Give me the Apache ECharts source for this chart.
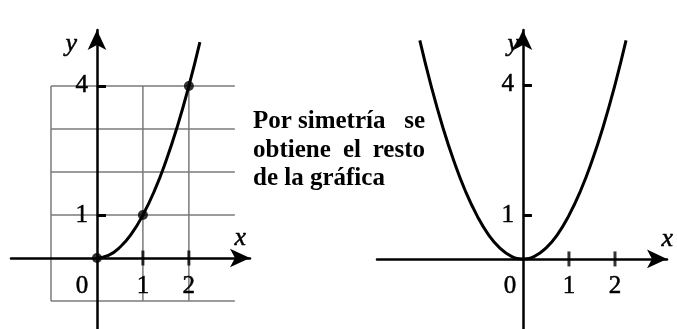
<!DOCTYPE html>
<html>
<head>
<meta charset="utf-8">
<script src="https://cdn.jsdelivr.net/npm/echarts@6/dist/echarts.min.js"></script>
<style>
  html, body { margin: 0; padding: 0; background: #fff; }
  #chart { width: 677px; height: 329px; }
</style>
</head>
<body>
<div id="chart"></div>
<script>
// half parabola y = x^2
const curveX = [0, 0.25, 0.5, 0.75, 1, 1.25, 1.5, 1.75, 2, 2.24];
const curveY = [0, 0.06, 0.25, 0.56, 1, 1.56, 2.25, 3.06, 4, 5.02];
// marked points
const dotX = [0, 1, 2];
const dotY = [0, 1, 4];
// background grid on the left panel
const gridRows = [-1, 1, 2, 3, 4];
const gridCols = [-1, 1, 2];
const gridXSpan = [-1, 3];
const gridYSpan = [-1, 4];
// ticks and labels
const xTicks = [1, 2];
const xLabels = [0, 1, 2];
const yTicks = [1, 4];
const textLines = [
  ['Por', 'simetría', 'se'],
  ['obtiene', 'el', 'resto'],
  ['de la gráfica']
];

const serif = '"Liberation Serif", "DejaVu Serif", serif';

// by symmetry: mirror the half curve for the right panel
const fullCurve = curveX.slice(1).reverse().map((x, i) => [-x, curveY[curveY.length - 1 - i]])
  .concat(curveX.map((x, i) => [x, curveY[i]]));

const chartDom = document.getElementById('chart');
const myChart = echarts.init(chartDom);

function makeX(gridIndex, min, max, nameGap) {
  return {
    gridIndex: gridIndex, type: 'value', min: min, max: max, z: 3,
    splitLine: { show: false },
    axisTick: { show: false },
    axisLabel: { show: false },
    axisLine: {
      onZero: true, symbol: ['none', 'arrow'], symbolSize: [14, 20],
      lineStyle: { color: '#000', width: 2.5 }
    },
    name: 'x', nameLocation: 'end', nameGap: nameGap,
    nameTextStyle: {
      fontFamily: serif, fontStyle: 'italic', fontSize: 26, color: '#000',
      textBorderColor: '#000', textBorderWidth: 0.5,
      align: 'right', verticalAlign: 'bottom', padding: [0, 0, 7, 0]
    }
  };
}

function makeY(gridIndex, min, max, namePad) {
  return {
    gridIndex: gridIndex, type: 'value', min: min, max: max, z: 3,
    splitLine: { show: false },
    axisLabel: { show: false },
    axisLine: {
      onZero: true, symbol: ['none', 'arrow'], symbolSize: [14, 20],
      lineStyle: { color: '#000', width: 2.5 }
    },
    axisTick: {
      show: true, customValues: yTicks, inside: true, length: 9,
      lineStyle: { color: '#000', width: 3 }
    },
    name: 'y', nameLocation: 'end', nameGap: -14,
    nameTextStyle: {
      fontFamily: serif, fontStyle: 'italic', fontSize: 26, color: '#000',
      textBorderColor: '#000', textBorderWidth: 0.5,
      align: 'right', verticalAlign: 'middle', padding: [0, namePad, 0, 0]
    }
  };
}

// number labels sitting on the axes, placed through the data coordinates
function labelSeries(idx, zeroShift) {
  const items = xLabels.map(v => [v, 0, 'x']).concat(yTicks.map(v => [0, v, 'y']));
  return {
    type: 'custom', xAxisIndex: idx, yAxisIndex: idx, z: 6, silent: true,
    data: items,
    renderItem: (params, api) => {
      const kind = items[params.dataIndex][2];
      const p = api.coord([api.value(0), api.value(1)]);
      const isX = kind === 'x';
      const val = isX ? api.value(0) : api.value(1);
      return {
        type: 'text',
        x: isX ? p[0] + (val === 0 ? zeroShift : 0) : p[0] - 9,
        y: isX ? p[1] + 28 : p[1],
        style: {
          text: String(val), fill: '#000', font: '25px ' + serif,
          stroke: '#000', lineWidth: 0.5,
          textAlign: isX ? 'center' : 'right', textVerticalAlign: 'middle'
        }
      };
    }
  };
}

const gridSeries = [];
gridRows.forEach(y => gridSeries.push({
  type: 'line', xAxisIndex: 0, yAxisIndex: 0, z: 1, silent: true, symbol: 'none',
  lineStyle: { color: '#7a7a7a', width: 1.5 },
  data: [[gridXSpan[0], y], [gridXSpan[1], y]]
}));
gridCols.forEach(x => gridSeries.push({
  type: 'line', xAxisIndex: 0, yAxisIndex: 0, z: 1, silent: true, symbol: 'none',
  lineStyle: { color: '#7a7a7a', width: 1.5 },
  data: [[x, gridYSpan[0]], [x, gridYSpan[1]]]
}));

// text block, word positions as in the picture (justified lines)
const wordPos = [
  [{ x: 253, a: 'left' }, { x: 298, a: 'left' }, { x: 425, a: 'right' }],
  [{ x: 253, a: 'left' }, { x: 343, a: 'left' }, { x: 425, a: 'right' }],
  [{ x: 253, a: 'left' }]
];
const lineY = [122, 151, 179];
const graphics = [];
textLines.forEach((words, li) => words.forEach((w, wi) => graphics.push({
  type: 'text', x: wordPos[li][wi].x, y: lineY[li],
  style: {
    text: w, fill: '#000', font: 'bold 25px ' + serif,
    textAlign: wordPos[li][wi].a, textVerticalAlign: 'middle'
  }
})));

myChart.setOption({
  animation: false,
  backgroundColor: '#fff',
  grid: [
    { left: 11, top: 30, width: 239, height: 299, outerBoundsMode: 'none', containLabel: false },
    { left: 377, top: 30, width: 290, height: 299, outerBoundsMode: 'none', containLabel: false }
  ],
  xAxis: [makeX(0, -1.87, 3.33, -4), makeX(1, -3.17, 3.13, 6)],
  yAxis: [makeY(0, -1.65, 5.3, 20), makeY(1, -1.61, 5.26, 4)],
  graphic: graphics,
  series: gridSeries.concat([
    {
      name: 'y = x²', type: 'line', xAxisIndex: 0, yAxisIndex: 0, z: 2,
      smooth: true, showSymbol: false,
      lineStyle: { color: '#000', width: 3 },
      data: curveX.map((x, i) => [x, curveY[i]])
    },
    {
      type: 'scatter', xAxisIndex: 0, yAxisIndex: 0, z: 5,
      symbolSize: 10, itemStyle: { color: '#000' },
      data: dotX.map((x, i) => [x, dotY[i]])
    },
    {
      type: 'scatter', xAxisIndex: 0, yAxisIndex: 0, z: 5,
      symbol: 'rect', symbolSize: [3, 15], itemStyle: { color: '#000' },
      data: xTicks.map(x => [x, 0])
    },
    {
      name: 'y = x²', type: 'line', xAxisIndex: 1, yAxisIndex: 1, z: 2,
      smooth: true, showSymbol: false,
      lineStyle: { color: '#000', width: 3 },
      data: fullCurve
    },
    {
      type: 'scatter', xAxisIndex: 1, yAxisIndex: 1, z: 5,
      symbol: 'rect', symbolSize: [3, 15], itemStyle: { color: '#000' },
      data: xTicks.map(x => [x, 0])
    },
    labelSeries(0, -15),
    labelSeries(1, -13)
  ])
});
</script>
</body>
</html>
